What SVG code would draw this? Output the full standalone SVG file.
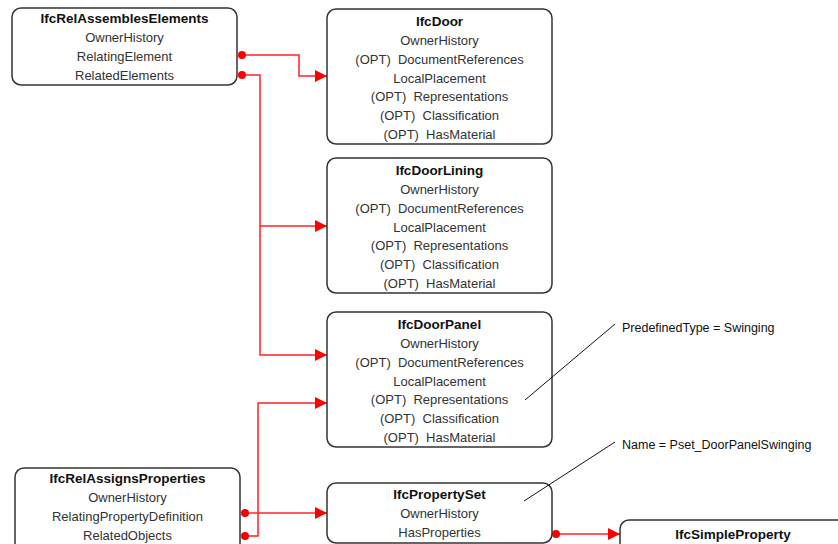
<svg xmlns="http://www.w3.org/2000/svg" width="838" height="544" viewBox="0 0 838 544">
<defs>
<style>
.box{fill:#fff;stroke:#333;stroke-width:1.5}
.t{font-family:"Liberation Sans",Arial,sans-serif;font-size:13.5px;font-weight:bold;fill:#111;text-anchor:middle}
.a{font-family:"Liberation Sans",Arial,sans-serif;font-size:13px;fill:#333;text-anchor:middle;white-space:pre}
.n{font-family:"Liberation Sans",Arial,sans-serif;font-size:12.5px;fill:#111}
.c{fill:none;stroke:#f22;stroke-width:1.5}
.d{fill:#f00}
.ln{stroke:#111;stroke-width:1;fill:none}
</style>
<marker id="arr" viewBox="0 0 12 12" refX="12" refY="6" markerWidth="12" markerHeight="12" markerUnits="userSpaceOnUse" orient="auto"><path d="M0,0 L12,6 L0,12 Z" fill="#f00"/></marker>
</defs>
<rect width="838" height="544" fill="#fff"/>
<g id="connectors">
<path class="c" d="M242,55 H299 V76 H327" marker-end="url(#arr)"/>
<path class="c" d="M242,75 H260 V226 H327" marker-end="url(#arr)"/>
<path class="c" d="M260,226 V355 H327" marker-end="url(#arr)"/>
<path class="c" d="M245,536 H258 V403 H327" marker-end="url(#arr)"/>
<path class="c" d="M245,513 H327" marker-end="url(#arr)"/>
<path class="c" d="M556,534 H620" marker-end="url(#arr)"/>
<circle class="d" cx="242" cy="55" r="4"/>
<circle class="d" cx="242" cy="75" r="4"/>
<circle class="d" cx="245" cy="513" r="4"/>
<circle class="d" cx="245" cy="536" r="4"/>
<circle class="d" cx="556" cy="534" r="4"/>
</g>
<g id="IfcRelAssemblesElements">
<rect class="box" x="12" y="8" width="225" height="77" rx="9"/>
<text class="t" x="124.5" y="23">IfcRelAssemblesElements</text>
<text class="a" x="124.5" y="42">OwnerHistory</text>
<text class="a" x="124.5" y="61">RelatingElement</text>
<text class="a" x="124.5" y="80">RelatedElements</text>
</g>
<g id="IfcDoor">
<rect class="box" x="327" y="9" width="225" height="135" rx="9"/>
<text class="t" x="439.5" y="26">IfcDoor</text>
<text class="a" x="439.5" y="45">OwnerHistory</text>
<text class="a" x="439.5" y="64">(OPT)  DocumentReferences</text>
<text class="a" x="439.5" y="83">LocalPlacement</text>
<text class="a" x="439.5" y="101">(OPT)  Representations</text>
<text class="a" x="439.5" y="120">(OPT)  Classification</text>
<text class="a" x="439.5" y="139">(OPT)  HasMaterial</text>
</g>
<g id="IfcDoorLining">
<rect class="box" x="327" y="158" width="225" height="135" rx="9"/>
<text class="t" x="439.5" y="175">IfcDoorLining</text>
<text class="a" x="439.5" y="194">OwnerHistory</text>
<text class="a" x="439.5" y="213">(OPT)  DocumentReferences</text>
<text class="a" x="439.5" y="232">LocalPlacement</text>
<text class="a" x="439.5" y="250">(OPT)  Representations</text>
<text class="a" x="439.5" y="269">(OPT)  Classification</text>
<text class="a" x="439.5" y="288">(OPT)  HasMaterial</text>
</g>
<g id="IfcDoorPanel">
<rect class="box" x="327" y="312" width="225" height="135" rx="9"/>
<text class="t" x="439.5" y="329">IfcDoorPanel</text>
<text class="a" x="439.5" y="348">OwnerHistory</text>
<text class="a" x="439.5" y="367">(OPT)  DocumentReferences</text>
<text class="a" x="439.5" y="386">LocalPlacement</text>
<text class="a" x="439.5" y="404">(OPT)  Representations</text>
<text class="a" x="439.5" y="423">(OPT)  Classification</text>
<text class="a" x="439.5" y="442">(OPT)  HasMaterial</text>
</g>
<g id="IfcRelAssignsProperties">
<rect class="box" x="15" y="468" width="225" height="86" rx="9"/>
<text class="t" x="127.5" y="483">IfcRelAssignsProperties</text>
<text class="a" x="127.5" y="502">OwnerHistory</text>
<text class="a" x="127.5" y="521">RelatingPropertyDefinition</text>
<text class="a" x="127.5" y="540">RelatedObjects</text>
</g>
<g id="IfcPropertySet">
<rect class="box" x="327" y="483" width="225" height="60" rx="9"/>
<text class="t" x="439.5" y="499">IfcPropertySet</text>
<text class="a" x="439.5" y="518">OwnerHistory</text>
<text class="a" x="439.5" y="537">HasProperties</text>
</g>
<g id="IfcSimpleProperty">
<rect class="box" x="620" y="520" width="226" height="40" rx="9"/>
<text class="t" x="733" y="539">IfcSimpleProperty</text>
</g>
<g id="annotations">
<path class="ln" d="M525,400 L615,324"/>
<text class="n" x="622" y="332">PredefinedType = Swinging</text>
<path class="ln" d="M524,501 L615,442"/>
<text class="n" x="622" y="449">Name = Pset_DoorPanelSwinging</text>
</g>
</svg>
